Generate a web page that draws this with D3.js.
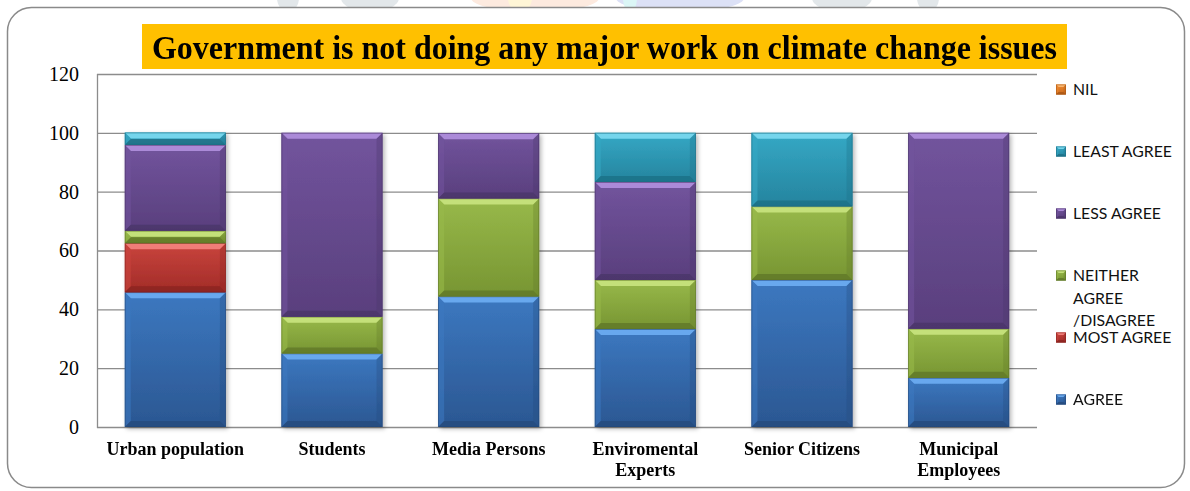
<!DOCTYPE html>
<html>
<head>
<meta charset="utf-8">
<script src="https://cdn.jsdelivr.net/npm/d3@7"></script>
<style>
  html, body { margin: 0; padding: 0; background: #fff; }
  svg { display: block; }
  .serif { font-family: "Liberation Serif", "Times New Roman", serif; }
  .legend-text { font-family: Lato, "Open Sans", sans-serif; }
</style>
</head>
<body>
<svg id="chart" width="1190" height="491"></svg>
<script>
// Survey responses (% of respondents) per group
const categories = ["Urban population", "Students", "Media Persons", "Enviromental\nExperts", "Senior Citizens", "Municipal\nEmployees"];
const agree      = [45.8, 25.0, 44.4, 33.3, 50.0, 16.7];
const mostAgree  = [16.7,  0.0,  0.0,  0.0,  0.0,  0.0];
const neither    = [ 4.2, 12.5, 33.3, 16.7, 25.0, 16.7];
const lessAgree  = [29.2, 62.5, 22.2, 33.3,  0.0, 66.6];
const leastAgree = [ 4.2,  0.0,  0.0, 16.7, 25.0,  0.0];
const nil        = [ 0.0,  0.0,  0.0,  0.0,  0.0,  0.0];

const seriesNames = ["AGREE", "MOST AGREE", "NEITHER AGREE /DISAGREE", "LESS AGREE", "LEAST AGREE", "NIL"];
const legendLines = [["AGREE"], ["MOST AGREE"], ["NEITHER", "AGREE", "/DISAGREE"], ["LESS AGREE"], ["LEAST AGREE"], ["NIL"]];
const yTicks = [0, 20, 40, 60, 80, 100, 120];
const titleText = "Government is not doing any major work on climate change issues";

// Bevelled fill palettes: [gradient top, gradient bottom, top bevel, edge shade]
const palette = [
  ["#3c78c0", "#2b5792", "#68a8ee", "#25497b"],
  ["#c9443d", "#a22c28", "#f07d78", "#882421"],
  ["#98b94a", "#779532", "#c4e07a", "#5f7628"],
  ["#72549d", "#593f7d", "#ab8ad8", "#4a3468"],
  ["#35a8c5", "#25849e", "#74d5ec", "#1d6e84"],
  ["#f08b31", "#c8691c", "#f9b771", "#a85614"]
];

const valuesBySeries = [agree, mostAgree, neither, lessAgree, leastAgree, nil];
const rows = categories.map((c, i) => {
  const r = { category: c };
  seriesNames.forEach((s, k) => { r[s] = valuesBySeries[k][i]; });
  return r;
});

const svg = d3.select("#chart");
const plot = { left: 97, right: 1037, top: 74, bottom: 427 };

const defs = svg.append("defs");
palette.forEach((p, k) => {
  const g = defs.append("linearGradient").attr("id", "grad" + k)
    .attr("x1", 0).attr("y1", 0).attr("x2", 0).attr("y2", 1);
  g.append("stop").attr("offset", "0%").attr("stop-color", p[0]);
  g.append("stop").attr("offset", "100%").attr("stop-color", p[1]);
});
const shadow = defs.append("filter").attr("id", "barShadow")
  .attr("x", "-10%").attr("y", "-10%").attr("width", "130%").attr("height", "120%");
shadow.append("feDropShadow").attr("dx", 2).attr("dy", 2).attr("stdDeviation", 2)
  .attr("flood-color", "#000").attr("flood-opacity", 0.28);

// Faint site mark along the very top edge
const mark = svg.append("g").attr("opacity", 0.9);
[[288, 22, "#dfe5e8"], [370, 58, "#dfe5e8"], [535, 128, "#fde8dc"], [520, 24, "#fff6d2"],
 [680, 128, "#d9def6"], [630, 14, "#d8f6f6"], [842, 60, "#dfe5e8"], [928, 22, "#dfe5e8"]]
  .forEach(([cx, w, col]) => {
    mark.append("ellipse").attr("cx", cx).attr("cy", -2).attr("rx", w / 2).attr("ry", 14).attr("fill", col);
  });

// Rounded outer frame
svg.append("rect").attr("x", 7.5).attr("y", 7.5).attr("width", 1177).attr("height", 480)
  .attr("rx", 24).attr("ry", 24).attr("fill", "#fff").attr("stroke", "#8a8a8a").attr("stroke-width", 1.5);

const x = d3.scaleBand().domain(categories).range([plot.left, plot.right])
  .paddingInner(0.355).paddingOuter(0.1775);
const y = d3.scaleLinear().domain([0, 120]).range([plot.bottom, plot.top]);

// Horizontal gridlines and the vertical axis line
svg.append("g").selectAll("line").data(yTicks).join("line")
  .attr("x1", plot.left).attr("x2", plot.right)
  .attr("y1", d => y(d) + 0.5).attr("y2", d => y(d) + 0.5)
  .attr("stroke", "#8c8c8c").attr("stroke-width", 1.3);
svg.append("line").attr("x1", plot.left + 0.5).attr("x2", plot.left + 0.5)
  .attr("y1", y(120)).attr("y2", y(0) + 1)
  .attr("stroke", "#8c8c8c").attr("stroke-width", 1.3);

// Y axis labels
const yAxis = svg.append("g").attr("transform", `translate(${plot.left},0)`)
  .call(d3.axisLeft(y).tickValues(yTicks).tickSize(0).tickPadding(18).tickFormat(d3.format("d")));
yAxis.attr("font-family", null).attr("font-size", null);
yAxis.select(".domain").remove();
yAxis.selectAll("text").attr("class", "serif")
  .style("font-size", "20px").attr("fill", "#000");

// Bevelled block
function bevelBlock(g, bx, by, bw, bh, k, b) {
  const p = palette[k];
  b = Math.min(b, bh / 2, bw / 2);
  g.append("rect").attr("x", bx).attr("y", by).attr("width", bw).attr("height", bh)
    .attr("fill", `url(#grad${k})`);
  const poly = (pts, fill, op) => g.append("polygon")
    .attr("points", pts.map(q => q.join(",")).join(" ")).attr("fill", fill).attr("opacity", op);
  poly([[bx, by], [bx + bw, by], [bx + bw - b, by + b], [bx + b, by + b]], p[2], 1);
  poly([[bx, by], [bx + b, by + b], [bx + b, by + bh - b], [bx, by + bh]], p[0], 0.6);
  poly([[bx + bw, by], [bx + bw - b, by + b], [bx + bw - b, by + bh - b], [bx + bw, by + bh]], p[3], 0.3);
  poly([[bx, by + bh], [bx + b, by + bh - b], [bx + bw - b, by + bh - b], [bx + bw, by + bh]], p[3], 0.75);
  g.append("rect").attr("x", bx + 0.4).attr("y", by + 0.4).attr("width", bw - 0.8).attr("height", bh - 0.8)
    .attr("fill", "none").attr("stroke", p[3]).attr("stroke-width", 0.8).attr("opacity", 0.7);
}

const stacked = d3.stack().keys(seriesNames)(rows);
const bars = svg.append("g").attr("filter", "url(#barShadow)");
stacked.forEach((layer, k) => {
  layer.forEach(seg => {
    const v = seg[1] - seg[0];
    if (v <= 0) return;
    const cat = seg.data.category;
    const y0 = y(seg[0]), y1 = y(seg[1]);
    bevelBlock(bars.append("g"), x(cat), y1, x.bandwidth(), y0 - y1, k, 6);
  });
});

// X axis labels
const xAxis = svg.append("g").attr("transform", `translate(0,${plot.bottom})`)
  .call(d3.axisBottom(x).tickSize(0));
xAxis.attr("font-family", null).attr("font-size", null);
xAxis.select(".domain").remove();
xAxis.selectAll("text").each(function (d) {
  const t = d3.select(this).text(null).attr("y", 28).attr("dy", null)
    .attr("class", "serif").style("font-size", "18px").style("font-weight", "bold").attr("fill", "#000");
  d.split("\n").forEach((line, i) => {
    t.append("tspan").attr("x", 0).attr("dy", i === 0 ? 0 : 21).text(line);
  });
});

// Legend (top entry is the last series)
const legend = svg.append("g");
const legendOrder = d3.range(seriesNames.length).reverse();
legendOrder.forEach((k, i) => {
  const cy = 89.5 + i * 62;
  bevelBlock(legend.append("g"), 1056, cy - 5, 10, 10, k, 2.5);
  const t = legend.append("text").attr("class", "legend-text").attr("x", 1073).attr("y", cy)
    .style("font-size", "15.8px").attr("fill", "#111");
  legendLines[k].forEach((line, j) => {
    t.append("tspan").attr("x", 1073).attr("dy", j === 0 ? "0.36em" : 22.5).text(line);
  });
});

// Title banner
const titleBox = { x: 142, y: 24, w: 925, h: 45 };
svg.append("rect").attr("x", titleBox.x).attr("y", titleBox.y).attr("width", titleBox.w).attr("height", titleBox.h)
  .attr("fill", "#ffc000");
svg.append("text").attr("class", "serif")
  .attr("x", titleBox.x + titleBox.w / 2).attr("y", 58.5)
  .attr("text-anchor", "middle")
  .style("font-weight", "bold").style("font-size", "34px").attr("fill", "#000")
  .attr("textLength", 905).attr("lengthAdjust", "spacingAndGlyphs")
  .text(titleText);
</script>
</body>
</html>
